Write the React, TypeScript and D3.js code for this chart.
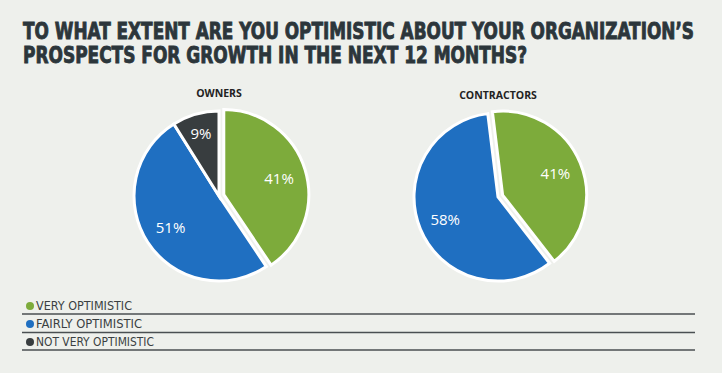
import React from "react";
import * as d3 from "d3";

const titleLines = [
  "TO WHAT EXTENT ARE YOU OPTIMISTIC ABOUT YOUR ORGANIZATION\u2019S",
  "PROSPECTS FOR GROWTH IN THE NEXT 12 MONTHS?",
];
const categories = ["VERY OPTIMISTIC", "FAIRLY OPTIMISTIC", "NOT VERY OPTIMISTIC"];
const colors = ["#7dab3b", "#1f6fc1", "#383d3f"];
const groups = ["OWNERS", "CONTRACTORS"];
const ownersValues = [41, 51, 9];
const contractorsValues = [41, 58, 0];

const W = 722;
const H = 373;

type PieSpec = {
  name: string;
  values: number[];
  cx: number;
  cy: number;
  r: number;
  start: number;
};

const pies: PieSpec[] = [
  { name: groups[0], values: ownersValues, cx: 219, cy: 196, r: 85, start: 0 },
  { name: groups[1], values: contractorsValues, cx: 498, cy: 197, r: 84, start: (-7 * Math.PI) / 180 },
];

function Pie({ spec }: { spec: PieSpec }) {
  const data = spec.values.map((v, i) => ({ v, i }));
  const pie = d3
    .pie<{ v: number; i: number }>()
    .value((d) => d.v)
    .sort(null)
    .startAngle(spec.start)
    .endAngle(spec.start + 2 * Math.PI);
  const arcs = pie(data).filter((a) => a.data.v > 0);
  const arc = d3.arc<d3.PieArcDatum<{ v: number; i: number }>>().innerRadius(0).outerRadius(spec.r);
  return (
    <g transform={`translate(${spec.cx},${spec.cy})`}>
      <text
        x={0}
        y={-spec.r - 14}
        textAnchor="middle"
        fontFamily="'Open Sans', 'Noto Sans', sans-serif"
        fontWeight={700}
        fontSize={10.5}
        fill="#222"
      >
        {spec.name}
      </text>
      {arcs.map((a) => {
        const mid = (a.startAngle + a.endAngle) / 2;
        const off = a.data.i === 0 ? 5 : 0;
        const dx = Math.sin(mid) * off;
        const dy = -Math.cos(mid) * off;
        const lr = spec.r * (a.endAngle - a.startAngle < 0.8 ? 0.77 : 0.68);
        const lx = Math.sin(mid) * lr;
        const ly = -Math.cos(mid) * lr;
        return (
          <g key={a.data.i} transform={`translate(${dx},${dy})`}>
            <path d={arc(a) || ""} fill={colors[a.data.i]} stroke="#ffffff" strokeWidth={3} strokeLinejoin="miter" />
            <text
              x={lx}
              y={ly}
              textAnchor="middle"
              dominantBaseline="central"
              fontFamily="'Open Sans', 'Noto Sans', sans-serif"
              fontSize={15}
              fill="#ffffff"
            >
              {a.data.v}%
            </text>
          </g>
        );
      })}
    </g>
  );
}

export default function App() {
  const legendY = [306, 324, 342];
  const lineY = [314, 332.5, 350];
  return (
    <svg width={W} height={H} style={{ position: "absolute", left: 0, top: 0 }}>
      <rect x={0} y={0} width={W} height={H} fill="#eef0ec" />
      {titleLines.map((t, i) => (
        <g key={i} transform={`translate(23,${39 + i * 24}) scale(1,1.2)`}>
          <text
            x={0}
            y={0}
            fontFamily="'DejaVu Sans Condensed', 'DejaVu Sans', sans-serif"
            fontWeight={700}
            fontSize={18.5}
            fill="#2c363b"
            stroke="#2c363b"
            strokeWidth={0.7}
            textLength={i === 0 ? 671 : 504}
            lengthAdjust="spacingAndGlyphs"
          >
            {t}
          </text>
        </g>
      ))}
      {pies.map((p) => (
        <Pie key={p.name} spec={p} />
      ))}
      {categories.map((c, i) => (
        <g key={c}>
          <circle cx={30} cy={legendY[i]} r={4} fill={colors[i]} />
          <text
            x={36}
            y={legendY[i] + 4}
            fontFamily="'DejaVu Sans Condensed', 'DejaVu Sans', sans-serif"
            fontSize={11.5}
            fill="#3a3f42"
            textLength={[96, 106, 118][i]}
            lengthAdjust="spacingAndGlyphs"
          >
            {c}
          </text>
          <line x1={22} x2={695} y1={lineY[i]} y2={lineY[i]} stroke="#4a4f52" strokeWidth={1.5} />
        </g>
      ))}
    </svg>
  );
}
